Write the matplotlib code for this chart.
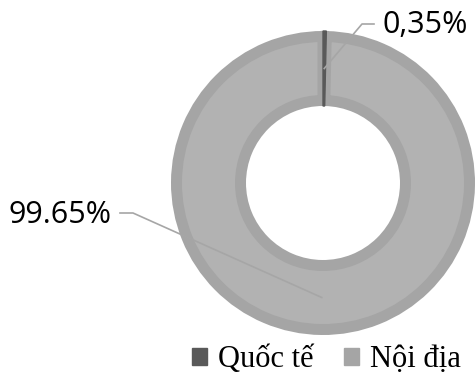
import numpy as np
import matplotlib.pyplot as plt
from matplotlib.patches import Patch

# === Data ===
labels = ["Quốc tế", "Nội địa"]
shares = [0.35, 99.65]
value_texts = ["0,35%", "99.65%"]
fill_colors = ["#595959", "#b2b2b2"]
edge_colors = ["#595959", "#a5a5a5"]

# === Layout (pixels, figure is 475x376) ===
W, H = 475, 376
CX, CY = 323, H - 183
R_OUT, R_IN = 152, 77
EDGE_PX = 11   # ring outline, half of it lies outside the wedge

fig = plt.figure(figsize=(W / 100, H / 100), dpi=100)
ax = fig.add_axes([0, 0, 1, 1])

half = EDGE_PX / 2
wedges, _ = ax.pie(shares, radius=R_OUT - half, center=(CX, CY),
                   startangle=90, counterclock=False,
                   colors=fill_colors,
                   wedgeprops=dict(width=R_OUT - R_IN - EDGE_PX))
for w, ec in zip(wedges, edge_colors):
    w.set_edgecolor(ec)
wedges[1].set_linewidth(EDGE_PX * 72 / 100)
wedges[1].set_zorder(1)
wedges[0].set_linewidth(1.0)
wedges[0].set_zorder(2)
# the small slice runs across the whole ring, outline included
wedges[0].set_radius(R_OUT)
wedges[0].set_width(R_OUT - R_IN)

ax.set_xlim(0, W)
ax.set_ylim(0, H)
ax.set_aspect("equal")
ax.axis("off")

# leader lines start at the middle of the ring, at each slice's mid angle
r_mid = (R_OUT + R_IN) / 2
label_pos = [(382, H - 25), (112, H - 215)]
elbows = [[(362, H - 24), (374, H - 24)], [(133, H - 213), (120, H - 213)]]
aligns = ["left", "right"]
for w, txt, pos, elb, ha in zip(wedges, value_texts, label_pos, elbows, aligns):
    ang = np.deg2rad((w.theta1 + w.theta2) / 2)
    x0, y0 = CX + r_mid * np.cos(ang), CY + r_mid * np.sin(ang)
    xs = [x0] + [p[0] for p in elb]
    ys = [y0] + [p[1] for p in elb]
    ax.plot(xs, ys, color="#a6a6a6", lw=1.2, zorder=3)
    ax.text(pos[0], pos[1], txt, ha=ha, va="center", fontsize=22,
            family="Open Sans", color="black")

handles = [Patch(facecolor=c, edgecolor=c) for c in ["#595959", "#a5a5a5"]]
fig.legend(handles, labels, loc="lower left",
           bbox_to_anchor=(192 / W, 0.004),
           ncol=2, frameon=False, handlelength=0.49, handleheight=0.49,
           handletextpad=0.36, columnspacing=1.0, borderpad=0.0,
           borderaxespad=0.0,
           prop=dict(family="Liberation Serif", size=22))

fig.savefig("out.png", dpi=100)
